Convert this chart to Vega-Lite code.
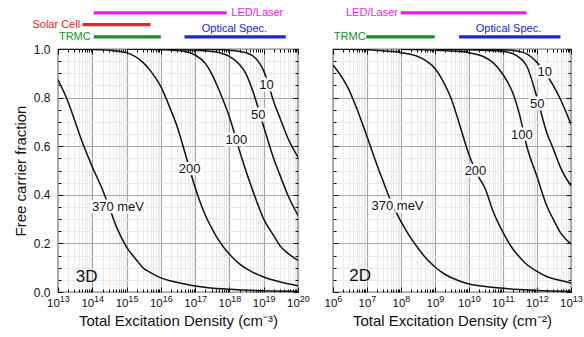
{
  "$schema": "https://vega.github.io/schema/vega-lite/v6.json",
  "padding": {"left": 12, "top": 6, "right": 5, "bottom": 5},
  "background": "white",
  "config": {
    "view": {"stroke": "black", "strokeWidth": 1.2},
    "font": "Liberation Sans",
    "axis": {
      "domain": false,
      "labelFont": "Liberation Sans",
      "titleFont": "Liberation Sans",
      "labelFontSize": 12,
      "titleFontSize": 15,
      "titleFontWeight": "normal",
      "labelColor": "#111111",
      "titleColor": "#111111",
      "tickColor": "#111111",
      "tickWidth": 1
    },
    "text": {"font": "Liberation Sans"}
  },
  "datasets": {
    "curves3d": [
      {"eb": 370, "n": 1e13, "f": 0.873}, {"eb": 370, "n": 2e13, "f": 0.78}, {"eb": 370, "n": 3e13, "f": 0.71},
      {"eb": 370, "n": 5e13, "f": 0.62}, {"eb": 370, "n": 1e14, "f": 0.515}, {"eb": 370, "n": 2e14, "f": 0.42},
      {"eb": 370, "n": 3e14, "f": 0.355}, {"eb": 370, "n": 5e14, "f": 0.27}, {"eb": 370, "n": 1e15, "f": 0.185},
      {"eb": 370, "n": 2e15, "f": 0.13}, {"eb": 370, "n": 3e15, "f": 0.10}, {"eb": 370, "n": 5e15, "f": 0.08},
      {"eb": 370, "n": 1e16, "f": 0.058}, {"eb": 370, "n": 2e16, "f": 0.045}, {"eb": 370, "n": 5e16, "f": 0.033},
      {"eb": 370, "n": 1e17, "f": 0.025}, {"eb": 370, "n": 1e18, "f": 0.011}, {"eb": 370, "n": 1e19, "f": 0.005},
      {"eb": 370, "n": 1e20, "f": 0.002},
      {"eb": 200, "n": 1e13, "f": 1.0}, {"eb": 200, "n": 1e14, "f": 0.998}, {"eb": 200, "n": 5e14, "f": 0.992},
      {"eb": 200, "n": 1e15, "f": 0.985}, {"eb": 200, "n": 3e15, "f": 0.945}, {"eb": 200, "n": 5e15, "f": 0.91},
      {"eb": 200, "n": 1e16, "f": 0.845}, {"eb": 200, "n": 2e16, "f": 0.745}, {"eb": 200, "n": 3e16, "f": 0.68},
      {"eb": 200, "n": 5e16, "f": 0.575}, {"eb": 200, "n": 1e17, "f": 0.43}, {"eb": 200, "n": 2e17, "f": 0.315},
      {"eb": 200, "n": 3e17, "f": 0.265}, {"eb": 200, "n": 5e17, "f": 0.21}, {"eb": 200, "n": 1e18, "f": 0.155},
      {"eb": 200, "n": 2e18, "f": 0.115}, {"eb": 200, "n": 5e18, "f": 0.08}, {"eb": 200, "n": 1e19, "f": 0.062},
      {"eb": 200, "n": 2e19, "f": 0.048}, {"eb": 200, "n": 5e19, "f": 0.034}, {"eb": 200, "n": 1e20, "f": 0.026},
      {"eb": 100, "n": 1e15, "f": 1.0}, {"eb": 100, "n": 1e16, "f": 0.997}, {"eb": 100, "n": 5e16, "f": 0.99},
      {"eb": 100, "n": 1e17, "f": 0.975}, {"eb": 100, "n": 2e17, "f": 0.94}, {"eb": 100, "n": 3e17, "f": 0.9},
      {"eb": 100, "n": 5e17, "f": 0.83}, {"eb": 100, "n": 1e18, "f": 0.72}, {"eb": 100, "n": 2e18, "f": 0.578},
      {"eb": 100, "n": 3e18, "f": 0.5}, {"eb": 100, "n": 5e18, "f": 0.41}, {"eb": 100, "n": 1e19, "f": 0.30},
      {"eb": 100, "n": 2e19, "f": 0.23}, {"eb": 100, "n": 3e19, "f": 0.19}, {"eb": 100, "n": 5e19, "f": 0.16},
      {"eb": 100, "n": 1e20, "f": 0.13},
      {"eb": 50, "n": 1e16, "f": 1.0}, {"eb": 50, "n": 1e17, "f": 0.995}, {"eb": 50, "n": 3e17, "f": 0.99},
      {"eb": 50, "n": 5e17, "f": 0.985}, {"eb": 50, "n": 1e18, "f": 0.97}, {"eb": 50, "n": 2e18, "f": 0.935},
      {"eb": 50, "n": 3e18, "f": 0.9}, {"eb": 50, "n": 5e18, "f": 0.82}, {"eb": 50, "n": 1e19, "f": 0.68},
      {"eb": 50, "n": 2e19, "f": 0.545}, {"eb": 50, "n": 3e19, "f": 0.48}, {"eb": 50, "n": 5e19, "f": 0.40},
      {"eb": 50, "n": 1e20, "f": 0.315},
      {"eb": 10, "n": 1e17, "f": 1.0}, {"eb": 10, "n": 1e18, "f": 0.995}, {"eb": 10, "n": 2e18, "f": 0.99},
      {"eb": 10, "n": 3e18, "f": 0.985}, {"eb": 10, "n": 5e18, "f": 0.97}, {"eb": 10, "n": 1e19, "f": 0.91},
      {"eb": 10, "n": 2e19, "f": 0.78}, {"eb": 10, "n": 3e19, "f": 0.715}, {"eb": 10, "n": 5e19, "f": 0.635},
      {"eb": 10, "n": 1e20, "f": 0.555}
    ],
    "curves2d": [
      {"eb": 370, "n": 1e6, "f": 0.934}, {"eb": 370, "n": 2e6, "f": 0.875}, {"eb": 370, "n": 3e6, "f": 0.83},
      {"eb": 370, "n": 5e6, "f": 0.755}, {"eb": 370, "n": 1e7, "f": 0.64}, {"eb": 370, "n": 2e7, "f": 0.52},
      {"eb": 370, "n": 3e7, "f": 0.455}, {"eb": 370, "n": 5e7, "f": 0.375}, {"eb": 370, "n": 1e8, "f": 0.29},
      {"eb": 370, "n": 2e8, "f": 0.22}, {"eb": 370, "n": 3e8, "f": 0.185}, {"eb": 370, "n": 5e8, "f": 0.145},
      {"eb": 370, "n": 1e9, "f": 0.103}, {"eb": 370, "n": 2e9, "f": 0.072}, {"eb": 370, "n": 5e9, "f": 0.046},
      {"eb": 370, "n": 1e10, "f": 0.033}, {"eb": 370, "n": 3e10, "f": 0.023}, {"eb": 370, "n": 1e11, "f": 0.015},
      {"eb": 370, "n": 3e11, "f": 0.01}, {"eb": 370, "n": 1e12, "f": 0.006}, {"eb": 370, "n": 1e13, "f": 0.002},
      {"eb": 200, "n": 1e6, "f": 1.0}, {"eb": 200, "n": 1e7, "f": 0.997}, {"eb": 200, "n": 5e7, "f": 0.99},
      {"eb": 200, "n": 1e8, "f": 0.985}, {"eb": 200, "n": 3e8, "f": 0.97}, {"eb": 200, "n": 5e8, "f": 0.955},
      {"eb": 200, "n": 1e9, "f": 0.92}, {"eb": 200, "n": 2e9, "f": 0.85}, {"eb": 200, "n": 3e9, "f": 0.795},
      {"eb": 200, "n": 5e9, "f": 0.70}, {"eb": 200, "n": 1e10, "f": 0.565}, {"eb": 200, "n": 2e10, "f": 0.47},
      {"eb": 200, "n": 3e10, "f": 0.425}, {"eb": 200, "n": 5e10, "f": 0.335}, {"eb": 200, "n": 1e11, "f": 0.245},
      {"eb": 200, "n": 2e11, "f": 0.175}, {"eb": 200, "n": 3e11, "f": 0.145}, {"eb": 200, "n": 5e11, "f": 0.113},
      {"eb": 200, "n": 1e12, "f": 0.085}, {"eb": 200, "n": 2e12, "f": 0.063}, {"eb": 200, "n": 5e12, "f": 0.047},
      {"eb": 200, "n": 1e13, "f": 0.037},
      {"eb": 100, "n": 1e8, "f": 0.999}, {"eb": 100, "n": 1e9, "f": 0.995}, {"eb": 100, "n": 5e9, "f": 0.99},
      {"eb": 100, "n": 1e10, "f": 0.985}, {"eb": 100, "n": 2e10, "f": 0.975}, {"eb": 100, "n": 3e10, "f": 0.965},
      {"eb": 100, "n": 5e10, "f": 0.945}, {"eb": 100, "n": 1e11, "f": 0.895}, {"eb": 100, "n": 2e11, "f": 0.815},
      {"eb": 100, "n": 3e11, "f": 0.735}, {"eb": 100, "n": 5e11, "f": 0.60}, {"eb": 100, "n": 1e12, "f": 0.475},
      {"eb": 100, "n": 2e12, "f": 0.35}, {"eb": 100, "n": 3e12, "f": 0.30}, {"eb": 100, "n": 5e12, "f": 0.242},
      {"eb": 100, "n": 1e13, "f": 0.198},
      {"eb": 50, "n": 1e9, "f": 0.999}, {"eb": 50, "n": 1e10, "f": 0.997}, {"eb": 50, "n": 5e10, "f": 0.993},
      {"eb": 50, "n": 1e11, "f": 0.99}, {"eb": 50, "n": 2e11, "f": 0.98}, {"eb": 50, "n": 3e11, "f": 0.965},
      {"eb": 50, "n": 5e11, "f": 0.93}, {"eb": 50, "n": 1e12, "f": 0.80}, {"eb": 50, "n": 2e12, "f": 0.65},
      {"eb": 50, "n": 3e12, "f": 0.59}, {"eb": 50, "n": 5e12, "f": 0.51}, {"eb": 50, "n": 1e13, "f": 0.437},
      {"eb": 10, "n": 1e10, "f": 0.999}, {"eb": 10, "n": 1e11, "f": 0.997}, {"eb": 10, "n": 3e11, "f": 0.99},
      {"eb": 10, "n": 5e11, "f": 0.98}, {"eb": 10, "n": 1e12, "f": 0.945}, {"eb": 10, "n": 2e12, "f": 0.89},
      {"eb": 10, "n": 3e12, "f": 0.85}, {"eb": 10, "n": 5e12, "f": 0.79}, {"eb": 10, "n": 1e13, "f": 0.69}
    ],
    "ranges3d": [
      {"label": "LED/Laser", "start": 1.1e14, "end": 8.3e17, "level": 1.149},
      {"label": "Solar Cell", "start": 5.2e13, "end": 5e15, "level": 1.10},
      {"label": "TRMC", "start": 1.1e14, "end": 1e16, "level": 1.05},
      {"label": "Optical Spec.", "start": 4.9e16, "end": 4.4e19, "level": 1.05}
    ],
    "tags3d": [
      {"label": "LED/Laser", "n": 6.5e18, "f": 1.148},
      {"label": "Solar Cell", "n": 8.9e12, "f": 1.10},
      {"label": "TRMC", "n": 3.1e13, "f": 1.05},
      {"label": "Optical Spec.", "n": 1.4e18, "f": 1.082}
    ],
    "ranges2d": [
      {"label": "LED/Laser", "start": 9.8e7, "end": 4.9e11, "level": 1.149},
      {"label": "TRMC", "start": 9.5e6, "end": 9.8e8, "level": 1.05},
      {"label": "Optical Spec.", "start": 5.1e9, "end": 4.9e12, "level": 1.05}
    ],
    "tags2d": [
      {"label": "LED/Laser", "n": 1.4e7, "f": 1.148},
      {"label": "TRMC", "n": 3.1e6, "f": 1.05},
      {"label": "Optical Spec.", "n": 1.45e11, "f": 1.081}
    ],
    "names3d": [
      {"t": "370 meV", "n": 5.6e14, "f": 0.35},
      {"t": "200", "n": 6.9e16, "f": 0.506},
      {"t": "100", "n": 1.6e18, "f": 0.625},
      {"t": "50", "n": 6.9e18, "f": 0.73},
      {"t": "10", "n": 1.2e19, "f": 0.85}
    ],
    "names2d": [
      {"t": "370 meV", "n": 7.9e7, "f": 0.352},
      {"t": "200", "n": 1.55e10, "f": 0.496},
      {"t": "100", "n": 3.6e11, "f": 0.647},
      {"t": "50", "n": 1.02e12, "f": 0.774},
      {"t": "10", "n": 1.7e12, "f": 0.905}
    ],
    "dim3d": [{"t": "3D", "n": 6.8e13, "f": 0.062}],
    "dim2d": [{"t": "2D", "n": 6.3e6, "f": 0.064}]
  },
  "spacing": 35,
  "bounds": "flush",
  "hconcat": [
    {
      "width": 240,
      "height": 243,
      "layer": [
        {
          "data": {"name": "curves3d"},
          "mark": {"type": "line", "color": "#111111", "strokeWidth": 1.5, "interpolate": "monotone", "clip": true},
          "encoding": {
            "x": {
              "field": "n", "type": "quantitative",
              "scale": {"type": "log", "domain": [1e13, 1e20], "nice": false},
              "axis": {
                "orient": "bottom", "title": "Total Excitation Density (cm⁻³)", "tickCount": 20,
                "labelExpr": "abs(log(datum.value)/LN10 - round(log(datum.value)/LN10)) < 0.001 ? '10' : ''",
                "labelOverlap": false, "labelFlush": false, "labelBound": false, "labelFontSize": 11.5,
                "labelBaseline": "middle", "labelOffset": -5,
                "tickSize": {"condition": {"test": "abs(log(datum.value)/LN10 - round(log(datum.value)/LN10)) < 0.001", "value": -5}, "value": -3},
                "labelPadding": 16.4,
                "grid": true,
                "gridColor": {"condition": {"test": "abs(log(datum.value)/LN10 - round(log(datum.value)/LN10)) < 0.001", "value": "#a8a8a8"}, "value": "#e4e4e4"},
                "gridWidth": {"condition": {"test": "abs(log(datum.value)/LN10 - round(log(datum.value)/LN10)) < 0.001", "value": 1.2}, "value": 0.8},
                "titlePadding": 3
              }
            },
            "y": {
              "field": "f", "type": "quantitative",
              "scale": {"domain": [0, 1], "nice": false, "zero": false},
              "axis": {
                "orient": "left", "title": "Free carrier fraction",
                "values": [0, 0.05, 0.1, 0.15, 0.2, 0.25, 0.3, 0.35, 0.4, 0.45, 0.5, 0.55, 0.6, 0.65, 0.7, 0.75, 0.8, 0.85, 0.9, 0.95, 1],
                "labelExpr": "abs(datum.value*5 - round(datum.value*5)) < 0.001 ? format(datum.value, '.1f') : ''",
                "labelOverlap": false, "labelFlush": false,
                "tickSize": {"condition": {"test": "abs(datum.value*5 - round(datum.value*5)) < 0.001", "value": -5}, "value": -3},
                "labelPadding": 13,
                "grid": true,
                "gridColor": {"condition": {"test": "abs(datum.value*5 - round(datum.value*5)) < 0.001", "value": "#a8a8a8"}, "value": "#e4e4e4"},
                "gridWidth": {"condition": {"test": "abs(datum.value*5 - round(datum.value*5)) < 0.001", "value": 1.2}, "value": 0.8},
                "titlePadding": 5
              }
            },
            "detail": {"field": "eb", "type": "nominal"}
          }
        },
        {
          "data": {"name": "ranges3d"},
          "mark": {"type": "rule", "strokeWidth": 3.3},
          "encoding": {
            "x": {
              "field": "start", "type": "quantitative",
              "scale": {"type": "log", "domain": [1e13, 1e20], "nice": false},
              "axis": {
                "orient": "top", "labels": false, "title": null, "grid": false, "tickCount": 20,
                "tickSize": {"condition": {"test": "abs(log(datum.value)/LN10 - round(log(datum.value)/LN10)) < 0.001", "value": -5}, "value": -3}
              }
            },
            "x2": {"field": "end"},
            "y": {
              "field": "level", "type": "quantitative",
              "scale": {"domain": [0, 1], "nice": false, "zero": false},
              "axis": {
                "orient": "right", "labels": false, "title": null, "grid": false,
                "values": [0, 0.05, 0.1, 0.15, 0.2, 0.25, 0.3, 0.35, 0.4, 0.45, 0.5, 0.55, 0.6, 0.65, 0.7, 0.75, 0.8, 0.85, 0.9, 0.95, 1],
                "tickSize": {"condition": {"test": "abs(datum.value*5 - round(datum.value*5)) < 0.001", "value": -5}, "value": -3}
              }
            },
            "color": {
              "field": "label", "type": "nominal", "legend": null,
              "scale": {"domain": ["LED/Laser", "Solar Cell", "TRMC", "Optical Spec."], "range": ["#ec1ce6", "#ee2222", "#16901c", "#2024e0"]}
            }
          }
        },
        {
          "data": {"name": "tags3d"},
          "mark": {"type": "text", "fontSize": 11, "baseline": "middle"},
          "encoding": {
            "x": {
              "field": "n", "type": "quantitative",
              "scale": {"type": "log", "domain": [1e13, 1e20], "nice": false},
              "axis": {
                "orient": "bottom", "title": null, "grid": false, "ticks": false, "tickSize": 0, "tickCount": 20,
                "labelExpr": "abs(log(datum.value)/LN10 - round(log(datum.value)/LN10)) < 0.001 ? format(round(log(datum.value)/LN10), 'd') : ''",
                "labelOverlap": false, "labelFlush": false, "labelBound": false, "labelFontSize": 9,
                "labelBaseline": "middle", "labelOffset": 6.3, "labelPadding": 6
              }
            },
            "y": {"field": "f", "type": "quantitative", "scale": {"domain": [0, 1], "nice": false, "zero": false}, "axis": null},
            "text": {"field": "label"},
            "color": {
              "field": "label", "type": "nominal", "legend": null,
              "scale": {"domain": ["LED/Laser", "Solar Cell", "TRMC", "Optical Spec."], "range": ["#ec1ce6", "#ee2222", "#16901c", "#2024e0"]}
            }
          }
        },
        {
          "data": {"name": "names3d"},
          "mark": {"type": "text", "fontSize": 13, "baseline": "middle", "color": "white", "stroke": "white", "strokeWidth": 5},
          "encoding": {
            "x": {"field": "n", "type": "quantitative", "scale": {"type": "log", "domain": [1e13, 1e20], "nice": false}, "axis": null},
            "y": {"field": "f", "type": "quantitative", "scale": {"domain": [0, 1], "nice": false, "zero": false}, "axis": null},
            "text": {"field": "t"}
          }
        },
        {
          "data": {"name": "names3d"},
          "mark": {"type": "text", "fontSize": 13, "baseline": "middle", "color": "#111111"},
          "encoding": {
            "x": {"field": "n", "type": "quantitative", "scale": {"type": "log", "domain": [1e13, 1e20], "nice": false}, "axis": null},
            "y": {"field": "f", "type": "quantitative", "scale": {"domain": [0, 1], "nice": false, "zero": false}, "axis": null},
            "text": {"field": "t"}
          }
        },
        {
          "data": {"name": "dim3d"},
          "mark": {"type": "text", "fontSize": 17, "baseline": "middle", "color": "#111111"},
          "encoding": {
            "x": {"field": "n", "type": "quantitative", "scale": {"type": "log", "domain": [1e13, 1e20], "nice": false}, "axis": null},
            "y": {"field": "f", "type": "quantitative", "scale": {"domain": [0, 1], "nice": false, "zero": false}, "axis": null},
            "text": {"field": "t"}
          }
        }
      ],
      "resolve": {"axis": {"x": "independent", "y": "independent"}}
    },
    {
      "width": 238,
      "height": 243,
      "layer": [
        {
          "data": {"name": "curves2d"},
          "mark": {"type": "line", "color": "#111111", "strokeWidth": 1.5, "interpolate": "monotone", "clip": true},
          "encoding": {
            "x": {
              "field": "n", "type": "quantitative",
              "scale": {"type": "log", "domain": [1e6, 1e13], "nice": false},
              "axis": {
                "orient": "bottom", "title": "Total Excitation Density (cm⁻²)", "tickCount": 20,
                "labelExpr": "abs(log(datum.value)/LN10 - round(log(datum.value)/LN10)) < 0.001 ? '10' : ''",
                "labelOverlap": false, "labelFlush": false, "labelBound": false, "labelFontSize": 11.5,
                "labelBaseline": "middle",
                "labelOffset": {"condition": {"test": "datum.value > 5e9", "value": -5}, "value": -2.5},
                "tickSize": {"condition": {"test": "abs(log(datum.value)/LN10 - round(log(datum.value)/LN10)) < 0.001", "value": -5}, "value": -3},
                "labelPadding": 16.4,
                "grid": true,
                "gridColor": {"condition": {"test": "abs(log(datum.value)/LN10 - round(log(datum.value)/LN10)) < 0.001", "value": "#a8a8a8"}, "value": "#e4e4e4"},
                "gridWidth": {"condition": {"test": "abs(log(datum.value)/LN10 - round(log(datum.value)/LN10)) < 0.001", "value": 1.2}, "value": 0.8},
                "titlePadding": 3
              }
            },
            "y": {
              "field": "f", "type": "quantitative",
              "scale": {"domain": [0, 1], "nice": false, "zero": false},
              "axis": {
                "orient": "left", "title": null, "labels": false,
                "values": [0, 0.05, 0.1, 0.15, 0.2, 0.25, 0.3, 0.35, 0.4, 0.45, 0.5, 0.55, 0.6, 0.65, 0.7, 0.75, 0.8, 0.85, 0.9, 0.95, 1],
                "tickSize": {"condition": {"test": "abs(datum.value*5 - round(datum.value*5)) < 0.001", "value": -5}, "value": -3},
                "grid": true,
                "gridColor": {"condition": {"test": "abs(datum.value*5 - round(datum.value*5)) < 0.001", "value": "#a8a8a8"}, "value": "#e4e4e4"},
                "gridWidth": {"condition": {"test": "abs(datum.value*5 - round(datum.value*5)) < 0.001", "value": 1.2}, "value": 0.8}
              }
            },
            "detail": {"field": "eb", "type": "nominal"}
          }
        },
        {
          "data": {"name": "ranges2d"},
          "mark": {"type": "rule", "strokeWidth": 3.3},
          "encoding": {
            "x": {
              "field": "start", "type": "quantitative",
              "scale": {"type": "log", "domain": [1e6, 1e13], "nice": false},
              "axis": {
                "orient": "top", "labels": false, "title": null, "grid": false, "tickCount": 20,
                "tickSize": {"condition": {"test": "abs(log(datum.value)/LN10 - round(log(datum.value)/LN10)) < 0.001", "value": -5}, "value": -3}
              }
            },
            "x2": {"field": "end"},
            "y": {
              "field": "level", "type": "quantitative",
              "scale": {"domain": [0, 1], "nice": false, "zero": false},
              "axis": {
                "orient": "right", "labels": false, "title": null, "grid": false,
                "values": [0, 0.05, 0.1, 0.15, 0.2, 0.25, 0.3, 0.35, 0.4, 0.45, 0.5, 0.55, 0.6, 0.65, 0.7, 0.75, 0.8, 0.85, 0.9, 0.95, 1],
                "tickSize": {"condition": {"test": "abs(datum.value*5 - round(datum.value*5)) < 0.001", "value": -5}, "value": -3}
              }
            },
            "color": {
              "field": "label", "type": "nominal", "legend": null,
              "scale": {"domain": ["LED/Laser", "Solar Cell", "TRMC", "Optical Spec."], "range": ["#ec1ce6", "#ee2222", "#16901c", "#2024e0"]}
            }
          }
        },
        {
          "data": {"name": "tags2d"},
          "mark": {"type": "text", "fontSize": 11, "baseline": "middle"},
          "encoding": {
            "x": {
              "field": "n", "type": "quantitative",
              "scale": {"type": "log", "domain": [1e6, 1e13], "nice": false},
              "axis": {
                "orient": "bottom", "title": null, "grid": false, "ticks": false, "tickSize": 0, "tickCount": 20,
                "labelExpr": "abs(log(datum.value)/LN10 - round(log(datum.value)/LN10)) < 0.001 ? format(round(log(datum.value)/LN10), 'd') : ''",
                "labelOverlap": false, "labelFlush": false, "labelBound": false, "labelFontSize": 9,
                "labelBaseline": "middle", "labelOffset": 6.3, "labelPadding": 6
              }
            },
            "y": {"field": "f", "type": "quantitative", "scale": {"domain": [0, 1], "nice": false, "zero": false}, "axis": null},
            "text": {"field": "label"},
            "color": {
              "field": "label", "type": "nominal", "legend": null,
              "scale": {"domain": ["LED/Laser", "Solar Cell", "TRMC", "Optical Spec."], "range": ["#ec1ce6", "#ee2222", "#16901c", "#2024e0"]}
            }
          }
        },
        {
          "data": {"name": "names2d"},
          "mark": {"type": "text", "fontSize": 13, "baseline": "middle", "color": "white", "stroke": "white", "strokeWidth": 5},
          "encoding": {
            "x": {"field": "n", "type": "quantitative", "scale": {"type": "log", "domain": [1e6, 1e13], "nice": false}, "axis": null},
            "y": {"field": "f", "type": "quantitative", "scale": {"domain": [0, 1], "nice": false, "zero": false}, "axis": null},
            "text": {"field": "t"}
          }
        },
        {
          "data": {"name": "names2d"},
          "mark": {"type": "text", "fontSize": 13, "baseline": "middle", "color": "#111111"},
          "encoding": {
            "x": {"field": "n", "type": "quantitative", "scale": {"type": "log", "domain": [1e6, 1e13], "nice": false}, "axis": null},
            "y": {"field": "f", "type": "quantitative", "scale": {"domain": [0, 1], "nice": false, "zero": false}, "axis": null},
            "text": {"field": "t"}
          }
        },
        {
          "data": {"name": "dim2d"},
          "mark": {"type": "text", "fontSize": 17, "baseline": "middle", "color": "#111111"},
          "encoding": {
            "x": {"field": "n", "type": "quantitative", "scale": {"type": "log", "domain": [1e6, 1e13], "nice": false}, "axis": null},
            "y": {"field": "f", "type": "quantitative", "scale": {"domain": [0, 1], "nice": false, "zero": false}, "axis": null},
            "text": {"field": "t"}
          }
        }
      ],
      "resolve": {"axis": {"x": "independent", "y": "independent"}}
    }
  ]
}
